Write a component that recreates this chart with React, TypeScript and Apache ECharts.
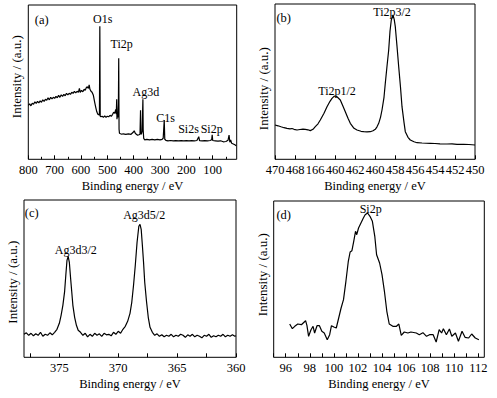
import React, { useEffect, useRef } from "react";
import * as echarts from "echarts";

const FONT = "'Liberation Serif', 'Times New Roman', serif";

// ---------- (a) survey spectrum ----------
const surveyData: [number, number][] = [
  [800, 54], [795, 55.5], [790, 53.5], [785, 56], [780, 55], [775, 57.5], [770, 56], [765, 58],
  [760, 56.5], [755, 58.5], [750, 57], [745, 59.5], [740, 58], [735, 60], [730, 59], [725, 61.5],
  [720, 59.5], [715, 62], [710, 60.5], [705, 62], [700, 61], [695, 63], [690, 61.5], [685, 64],
  [680, 62], [675, 64.5], [670, 63], [665, 65], [660, 63.5], [655, 66], [650, 64.5], [645, 66],
  [640, 65], [635, 67], [630, 66], [625, 68], [620, 66.5], [615, 68], [610, 67], [606, 71],
  [603, 67], [598, 69], [593, 67.5], [588, 70], [584, 69], [580, 71.5], [576, 72.5], [572, 71],
  [569, 74.5], [566, 70], [562, 68], [558, 67], [553, 64], [548, 57], [544, 52], [540, 47.5],
  [536, 45], [533, 45], [530, 44], [528.5, 133], [527, 43], [524, 42.5], [520, 43], [515, 42],
  [510, 43.5], [505, 42], [500, 43], [495, 42.5], [490, 44], [485, 43], [480, 45], [476, 47],
  [472, 46], [468, 50], [466, 45], [464.5, 60], [463.5, 40], [462, 44], [460, 42], [458, 55],
  [456.8, 101], [455.5, 30], [454, 26], [450, 25.5], [445, 25], [440, 25.5], [430, 25], [420, 25.5],
  [410, 25], [402, 27], [398, 28.5], [394, 26], [390, 25], [385, 24], [380, 24.5], [376, 25],
  [374, 49], [373, 27], [371, 25], [368, 28], [365, 60], [364, 30], [362, 21], [358, 19.5],
  [350, 20], [340, 19.5], [330, 20], [320, 19.5], [310, 20], [300, 19.5], [292, 20], [288, 21],
  [284, 39.3], [282, 20], [278, 19], [270, 18.5], [260, 18.8], [250, 18.5], [240, 18.6], [230, 18.4],
  [220, 18.7], [210, 18.5], [200, 18.6], [190, 18.4], [180, 18.7], [170, 18.5], [160, 18.8], [153, 22.6],
  [150, 18.6], [140, 18.5], [130, 18.7], [120, 18.5], [110, 18.8], [104, 19.5], [102, 24.6], [100, 18.8],
  [90, 18.5], [80, 18.2], [70, 18.5], [60, 17.5], [50, 17.8], [42, 19], [38, 24.3], [35, 17],
  [32, 19.5], [28, 16], [22, 15.3], [16, 14.5], [11, 13.6], [9, 13.2],
];
const surveyTicks = [800, 700, 600, 500, 400, 300, 200, 100];
const surveyMinorTicks = [750, 650, 550, 450, 350, 250, 150, 50];
const surveyPeaks: [string, number, number][] = [
  ["O1s", 517.6, 140.5],
  ["Ti2p", 445.5, 115.5],
  ["Ag3d", 354, 67.6],
  ["C1s", 279, 41],
  ["Si2s", 192, 30],
  ["Si2p", 104, 30],
];

// ---------- (b) Ti 2p ----------
const tiData: [number, number][] = [
  [470, 34.3], [469.7, 33.5], [469.4, 32.5], [469.1, 31.6], [468.8, 31], [468.5, 30.5], [468.3, 30.8],
  [468.1, 30], [467.8, 29.3], [467.5, 29.8], [467.2, 30.2], [466.97, 30], [466.7, 29.5], [466.47, 28.7],
  [466.2, 30], [465.97, 32.6], [465.7, 35.5], [465.47, 39.3], [465.1, 46], [464.8, 52.6], [464.5, 58],
  [464.3, 61], [464.1, 63], [463.97, 63.3], [463.8, 62.5], [463.47, 59.3], [463.2, 53], [462.97, 47.6],
  [462.7, 41], [462.47, 36], [462.1, 31], [461.8, 29.3], [461.4, 28], [461.13, 27.6], [460.8, 27.5],
  [460.47, 27.6], [460.2, 28.5], [459.97, 30], [459.8, 32.5], [459.63, 36], [459.45, 42], [459.3, 49.3],
  [459.1, 62], [458.97, 76], [458.8, 93], [458.63, 109.3], [458.5, 128], [458.37, 139.3], [458.2, 144.3],
  [458.08, 140], [457.97, 132.6], [457.8, 113], [457.63, 92.6], [457.45, 72], [457.3, 52.6], [457.1, 37],
  [456.97, 27.6], [456.7, 22], [456.47, 19.3], [456.1, 17.5], [455.8, 16.6], [455.3, 16.3], [454.47, 16],
  [454, 15.8], [453.5, 15.5], [452.8, 15.3], [452.3, 15.5], [451.8, 15], [451.13, 15], [450.6, 14.8],
  [450, 14.3],
];
const tiTicks = [470, 468, 466, 464, 462, 460, 458, 456, 454, 452, 450];
const tiTickLabels = ["470", "468", "166", "460", "462", "460", "458", "456", "454", "452", "450"];
const tiPeaks: [string, number, number][] = [
  ["Ti2p3/2", 458.3, 147.6],
  ["Ti2p1/2", 463.8, 68.5],
];

// ---------- (c) Ag 3d ----------
const agData: [number, number][] = [
  [378, 23], [377.8, 24.5], [377.6, 22], [377.4, 24], [377.2, 21.5], [377, 23.5], [376.8, 22],
  [376.6, 25], [376.4, 21], [376.2, 23], [376, 22], [375.8, 24.5], [375.6, 22.5], [375.4, 25],
  [375.2, 28], [375, 34], [374.85, 42], [374.7, 52], [374.55, 66], [374.45, 82], [374.35, 97],
  [374.25, 101], [374.15, 95], [374.05, 80], [373.95, 66], [373.85, 52], [373.7, 40], [373.55, 32],
  [373.4, 27], [373.2, 25], [373, 22], [372.8, 24], [372.6, 20.5], [372.4, 23], [372.2, 21],
  [372, 24], [371.8, 22], [371.6, 23.5], [371.4, 21], [371.2, 24], [371, 22.5], [370.8, 23],
  [370.6, 21.5], [370.4, 25], [370.2, 23], [370, 26], [369.8, 24], [369.6, 28], [369.4, 31],
  [369.2, 36], [369, 44], [368.85, 55], [368.7, 72], [368.55, 92], [368.4, 115], [368.25, 131],
  [368.15, 133], [368.05, 128], [367.95, 112], [367.85, 95], [367.75, 75], [367.6, 56], [367.45, 40],
  [367.3, 30], [367.1, 25], [366.9, 22], [366.7, 23.5], [366.5, 21], [366.3, 22.5], [366.1, 20.5],
  [365.9, 22], [365.7, 21], [365.5, 23], [365.3, 20.5], [365.1, 22], [364.9, 21], [364.7, 23],
  [364.5, 22], [364.3, 20], [364.1, 22.5], [363.9, 21], [363.7, 23], [363.5, 20.5], [363.3, 22],
  [363.1, 21], [362.9, 19.5], [362.7, 22], [362.5, 21], [362.3, 23], [362.1, 20], [361.9, 21.5],
  [361.7, 20.5], [361.5, 22], [361.3, 21], [361.1, 23], [360.9, 20.5], [360.7, 22], [360.5, 21],
  [360.3, 22.5], [360.1, 21], [360, 21.5],
];
const agTicks = [377.5, 375, 372.5, 370, 367.5, 365, 362.5, 360];
const agTickLabels = [375, 370, 365, 360];
const agPeaks: [string, number, number][] = [
  ["Ag3d5/2", 367.8, 142.6],
  ["Ag3d3/2", 373.6, 107.6],
];

// ---------- (d) Si 2p ----------
const siData: [number, number][] = [
  [96.33, 33.3], [96.55, 28.6], [96.75, 31], [97.0, 33.3], [97.3, 32.6], [97.65, 36.6], [97.76, 32],
  [97.9, 21], [98.1, 27.6], [98.27, 31], [98.4, 24.3], [98.6, 31.6], [98.8, 31.6], [99.0, 26],
  [99.2, 24.3], [99.45, 17.6], [99.65, 22.6], [99.8, 31.6], [100.0, 30.3], [100.2, 29.3], [100.4, 39.3],
  [100.6, 49.3], [100.8, 57.6], [101.0, 76], [101.2, 96], [101.35, 105.3], [101.5, 106.6], [101.65, 116],
  [101.8, 126], [101.9, 122.6], [102.05, 129.3], [102.25, 134.3], [102.45, 139.3], [102.6, 142.6],
  [102.8, 144.3], [103.0, 141], [103.2, 136], [103.4, 121], [103.55, 102.6], [103.8, 94.3], [104.0, 82.6],
  [104.2, 66], [104.4, 46], [104.6, 33.3], [104.9, 31], [105.2, 31], [105.4, 33.3], [105.6, 22],
  [105.85, 25.3], [106.15, 24.3], [106.4, 25.3], [106.85, 24.3], [107.1, 22.6], [107.4, 24.6], [107.7, 21],
  [107.95, 22.6], [108.25, 22.6], [108.5, 15.3], [108.75, 27.6], [108.95, 24.3], [109.1, 28.6],
  [109.35, 22.6], [109.6, 28.3], [109.8, 21], [110.1, 24.3], [110.35, 16], [110.65, 26], [110.9, 20],
  [111.2, 19.3], [111.45, 23.3], [111.75, 19.3], [112.05, 17.6],
];
const siTicks = [95, 96, 97, 98, 99, 100, 101, 102, 103, 104, 105, 106, 107, 108, 109, 110, 111, 112];
const siTickLabels = [96, 98, 100, 102, 104, 106, 108, 110, 112];
const siPeaks: [string, number, number][] = [["Si2p", 103.06, 148.8]];

const X_NAME = "Binding energy / eV";
const Y_NAME = "Intensity / (a.u.)";

const grids = [
  { left: 28.3, top: 5, width: 208.4, height: 154.3 },
  { left: 275, top: 4, width: 200, height: 155.3 },
  { left: 24, top: 200, width: 212, height: 157.3 },
  { left: 273.7, top: 201, width: 210.6, height: 156.3 },
];

function xAxis(
  gridIndex: number,
  min: number,
  max: number,
  inverse: boolean,
  ticks: number[],
  labels: number[],
  formatter?: (v: number) => string
) {
  return {
    type: "value",
    gridIndex,
    min,
    max,
    inverse,
    position: "bottom",
    axisLine: { show: false },
    splitLine: { show: false },
    axisTick: {
      show: true,
      inside: true,
      length: 4,
      customValues: ticks,
      lineStyle: { color: "#000", width: 1 },
    },
    axisLabel: {
      show: true,
      customValues: labels,
      margin: 4,
      fontSize: 12.5,
      fontFamily: FONT,
      color: "#000",
      formatter: formatter || ((v: number) => String(v)),
    },
    name: X_NAME,
    nameLocation: "middle",
    nameGap: 20,
    nameTextStyle: { fontSize: 12.5, fontFamily: FONT, color: "#000" },
  };
}

function yAxis(gridIndex: number, max: number, padding: number[]) {
  return {
    type: "value",
    gridIndex,
    min: 0,
    max,
    axisLine: { show: false },
    axisTick: { show: false },
    axisLabel: { show: false },
    splitLine: { show: false },
    name: Y_NAME,
    nameLocation: "middle",
    nameGap: 5,
    nameTextStyle: { fontSize: 13, fontFamily: FONT, color: "#000", padding },
  };
}

function series(idx: number, data: [number, number][], peaks: [string, number, number][]) {
  return {
    type: "line",
    xAxisIndex: idx,
    yAxisIndex: idx,
    data,
    symbol: "none",
    showSymbol: false,
    silent: true,
    lineStyle: { color: "#000", width: 1.2 },
    markPoint: {
      silent: true,
      symbol: "circle",
      symbolSize: 0,
      itemStyle: { color: "transparent" },
      label: {
        show: true,
        position: "inside",
        color: "#000",
        fontSize: 12,
        fontFamily: FONT,
        formatter: (p: any) => p.name,
      },
      data: peaks.map((p) => ({ name: p[0], coord: [p[1], p[2]] })),
    },
  };
}

export default function App() {
  const ref = useRef<HTMLDivElement>(null);
  useEffect(() => {
    if (!ref.current) return;
    const chart = echarts.init(ref.current, null, { renderer: "svg" });
    const panelLetters: [string, number, number][] = [
      ["(a)", 41.7, 20],
      ["(b)", 283.7, 18.3],
      ["(c)", 31.7, 213],
      ["(d)", 283.7, 214.7],
    ];
    chart.setOption({
      animation: false,
      backgroundColor: "#fff",
      grid: grids.map((g) => ({ ...g, show: true, borderColor: "#000", borderWidth: 1, backgroundColor: "transparent" })),
      xAxis: [
        xAxis(0, 9, 800, true, surveyTicks, surveyTicks),
        xAxis(1, 450, 470, true, tiTicks, tiTicks, (v: number) => {
          const i = tiTicks.findIndex((t) => Math.abs(t - v) < 1e-6);
          return i >= 0 ? tiTickLabels[i] : String(v);
        }),
        xAxis(2, 360, 378, true, agTicks, agTickLabels),
        xAxis(3, 95, 112.5, false, siTicks, siTickLabels),
        {
          type: "value",
          gridIndex: 0,
          min: 9,
          max: 800,
          inverse: true,
          position: "bottom",
          axisLine: { show: false },
          splitLine: { show: false },
          axisLabel: { show: false },
          axisTick: {
            show: true,
            inside: true,
            length: 2.5,
            customValues: surveyMinorTicks,
            lineStyle: { color: "#000", width: 1 },
          },
        },
      ],
      yAxis: [yAxis(0, 154.3, [0, 0, 0, 11]), yAxis(1, 155.3, [0, 14, 0, 0]), yAxis(2, 157.3, [0, 7, 0, 0]), yAxis(3, 156.3, [0, 0, 0, 9])],
      series: [
        series(0, surveyData, surveyPeaks),
        series(1, tiData, tiPeaks),
        series(2, agData, agPeaks),
        series(3, siData, siPeaks),
      ],
      graphic: panelLetters.map((p) => ({
        type: "text",
        x: p[1],
        y: p[2],
        silent: true,
        style: {
          text: p[0],
          fill: "#000",
          fontSize: 12.5,
          fontFamily: FONT,
          align: "center",
          verticalAlign: "middle",
        },
      })),
    });
    return () => chart.dispose();
  }, []);
  return (
    <div
      ref={ref}
      style={{ position: "absolute", left: 0, top: 0, width: 497, height: 398, background: "#fff" }}
    />
  );
}
